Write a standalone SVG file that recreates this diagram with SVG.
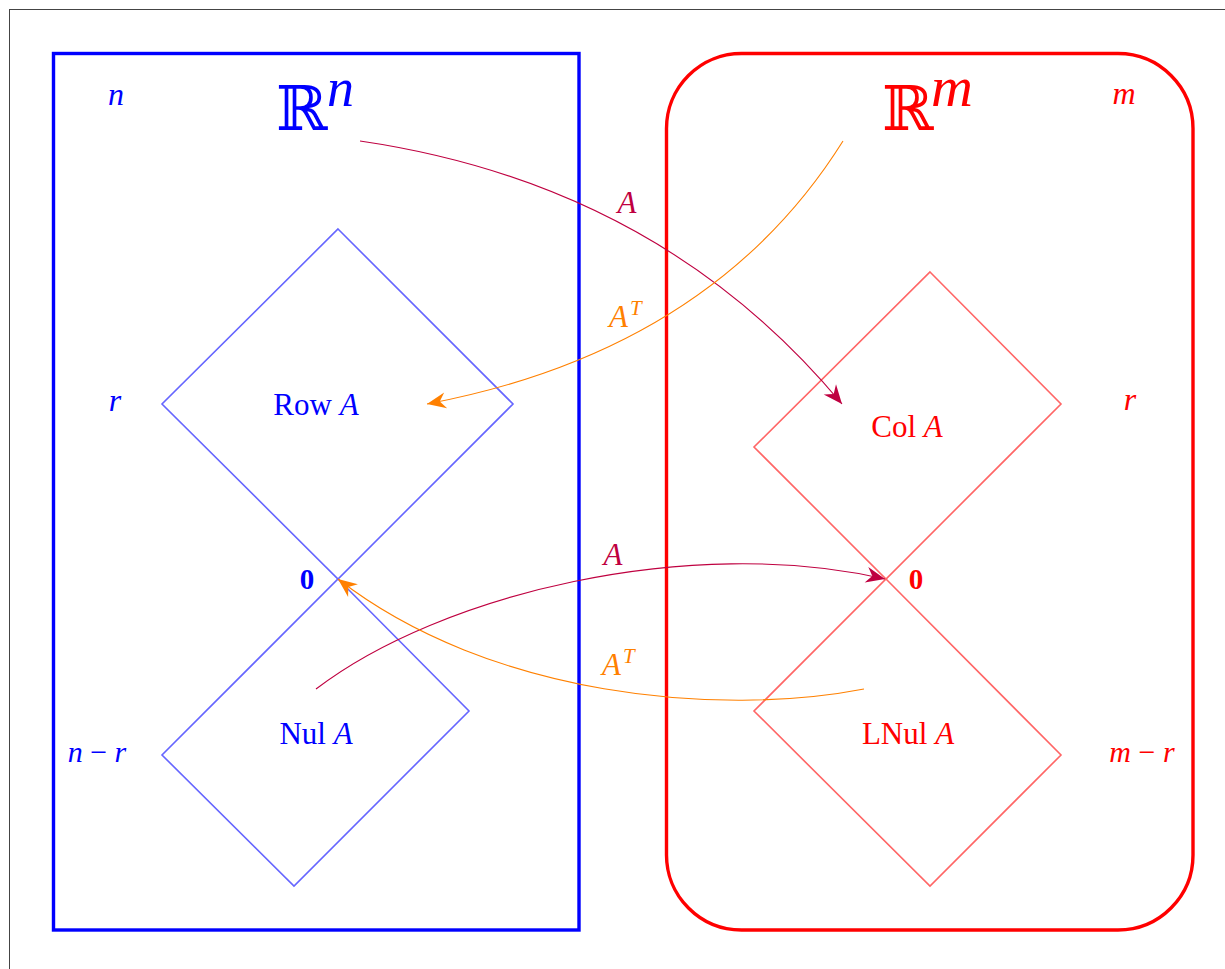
<svg xmlns="http://www.w3.org/2000/svg" width="1225" height="969" viewBox="0 0 1225 969">
<style>
.t{font-family:"Liberation Serif","DejaVu Serif",serif;}
.i{font-style:italic;}
.bl{fill:#0000ff;}
.rd{fill:#ff0000;}
.pu{fill:#bf0040;}
.or{fill:#ff8000;}
.dia-b{fill:none;stroke:#6666ff;stroke-width:1.6;}
.dia-r{fill:none;stroke:#ff6666;stroke-width:1.6;}
.cp{fill:none;stroke:#bf0040;stroke-width:1.1;}
.co{fill:none;stroke:#ff8000;stroke-width:1.1;}
.bb{font-family:"DejaVu Serif",serif;}
</style>
<defs>
<marker id="ap" viewBox="-20 -9 21 18" refX="0" refY="0" markerWidth="21" markerHeight="18" markerUnits="userSpaceOnUse" orient="auto">
<path d="M0,0 L-19,-8 L-13,0 L-19,8 Z" fill="#bf0040"/>
</marker>
<marker id="ao" viewBox="-20 -9 21 18" refX="0" refY="0" markerWidth="21" markerHeight="18" markerUnits="userSpaceOnUse" orient="auto">
<path d="M0,0 L-19,-8 L-13,0 L-19,8 Z" fill="#ff8000"/>
</marker>
</defs>
<rect x="0" y="0" width="1225" height="969" fill="#ffffff"/>
<rect x="9.5" y="9.5" width="1240" height="990" fill="none" stroke="#444444" stroke-width="1"/>

<g id="Rn">
<rect x="53.5" y="53.5" width="525.5" height="876.5" fill="none" stroke="#0000ff" stroke-width="3.4"/>
<text class="t i bl" x="116" y="105" font-size="32" text-anchor="middle">n</text>
<text class="bb bl" x="276" y="130" font-size="62">ℝ</text>
<text class="t i bl" x="327" y="106" font-size="54">n</text>
<text class="t i bl" x="115" y="411" font-size="32" text-anchor="middle">r</text>
<text class="t bl" x="97" y="762" font-size="30" text-anchor="middle"><tspan class="i">n</tspan> − <tspan class="i">r</tspan></text>
</g>

<g id="RowA">
<polygon class="dia-b" points="338,229 513,404 338,579 162,404"/>
<text class="t bl" x="316" y="415" font-size="31" text-anchor="middle">Row <tspan class="i">A</tspan></text>
</g>

<g id="NulA">
<polygon class="dia-b" points="338,579 469,711 294,886 162,755"/>
<text class="t bl" x="316" y="744" font-size="31" text-anchor="middle">Nul <tspan class="i">A</tspan></text>
</g>

<g id="zeroN">
<text class="t bl" x="307" y="589" font-size="29" font-weight="bold" text-anchor="middle">0</text>
</g>

<g id="Rm">
<rect x="666.5" y="53.5" width="526.5" height="876.5" rx="75" ry="75" fill="none" stroke="#ff0000" stroke-width="3.4"/>
<text class="bb rd" x="882" y="130" font-size="62">ℝ</text>
<text class="t i rd" x="931" y="106" font-size="58">m</text>
<text class="t i rd" x="1124" y="104" font-size="32" text-anchor="middle">m</text>
<text class="t i rd" x="1130" y="410" font-size="32" text-anchor="middle">r</text>
<text class="t rd" x="1142" y="762" font-size="30" text-anchor="middle"><tspan class="i">m</tspan> − <tspan class="i">r</tspan></text>
</g>

<g id="ColA">
<polygon class="dia-r" points="930,272 1061,404 886,579 754,447"/>
<text class="t rd" x="907" y="437" font-size="31" text-anchor="middle">Col <tspan class="i">A</tspan></text>
</g>

<g id="LNulA">
<polygon class="dia-r" points="886,579 1061,755 930,886 754,711"/>
<text class="t rd" x="908" y="744" font-size="31" text-anchor="middle">LNul <tspan class="i">A</tspan></text>
</g>

<g id="zeroM">
<text class="t rd" x="916" y="589" font-size="29" font-weight="bold" text-anchor="middle">0</text>
</g>

<g id="connectors">
<path class="cp" d="M360,141 Q660,185 842,404" marker-end="url(#ap)"/>
<path class="co" d="M843,141 Q712,350 427,404" marker-end="url(#ao)"/>
<path class="cp" d="M316,689 C440,594 690,534 885,579" marker-end="url(#ap)"/>
<path class="co" d="M864,689 C720,717 490,697 338,579" marker-end="url(#ao)"/>
<text class="t i pu" x="627" y="213" font-size="31" text-anchor="middle">A</text>
<text class="t i or" x="609" y="327" font-size="31">A</text>
<text class="t i or" x="630" y="315" font-size="21">T</text>
<text class="t i pu" x="613" y="565" font-size="31" text-anchor="middle">A</text>
<text class="t i or" x="602" y="675" font-size="31">A</text>
<text class="t i or" x="623" y="663" font-size="21">T</text>
</g>
</svg>
